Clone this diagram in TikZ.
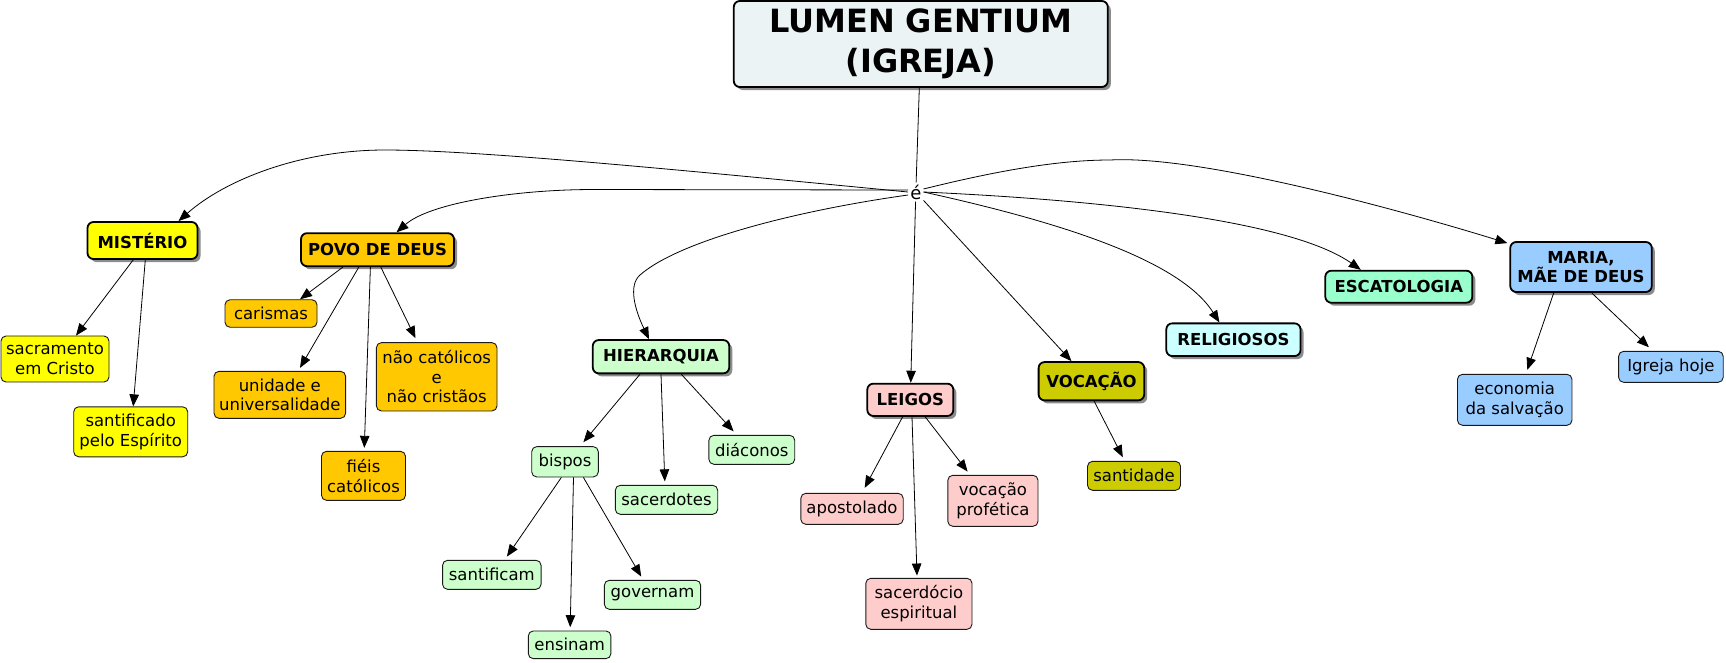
\documentclass[tikz,border=0pt]{standalone}
\usepackage{fontspec}
\setmainfont{DejaVu Sans}
\usetikzlibrary{arrows.meta,calc,shadows}
\definecolor{titlefill}{HTML}{EBF3F5}
\definecolor{cyel}{HTML}{FFFF00}
\definecolor{corange}{HTML}{FFC800}
\definecolor{cgreen}{HTML}{CCFFCC}
\definecolor{cpink}{HTML}{FFCCCC}
\definecolor{colive}{HTML}{CCCC00}
\definecolor{ccyan}{HTML}{CCFFFF}
\definecolor{caqua}{HTML}{99FFCC}
\definecolor{cblue}{HTML}{99CCFF}
\tikzset{
  cmain/.style={draw=black, line width=1.8pt, rounded corners=6pt, align=center, inner sep=0pt,
    font=\fontsize{16.5}{19.3}\selectfont\bfseries,
    drop shadow={shadow xshift=3pt, shadow yshift=-3pt, fill=black!45, opacity=1}},
  csub/.style={draw=black!90, line width=0.9pt, rounded corners=5pt, align=center, inner sep=0pt,
    font=\fontsize{16.5}{19.7}\selectfont},
  carr/.style={-{Triangle[length=12pt,width=9.5pt]}, line width=0.8pt},
  cline/.style={line width=0.8pt}
}
\begin{document}
\begin{tikzpicture}[x=1pt,y=-1pt]
\useasboundingbox (0,0) rectangle (1726,662);
% title
\node[cmain, fill=titlefill, minimum width=374pt, minimum height=86pt, font=\fontsize{32}{40}\selectfont\bfseries] (title) at (920.8,44) {LUMEN GENTIUM\\(IGREJA)};
\node[inner sep=2pt, font=\fontsize{18}{20}\selectfont] (e) at (915.8,192) {é};
% main concepts
\node[cmain, fill=cyel, minimum width=110pt, minimum height=37pt] (mist) at (142.5,240.5) {MISTÉRIO};
\node[cmain, fill=corange, minimum width=153pt, minimum height=33pt] (povo) at (377.5,249.7) {POVO DE DEUS};
\node[cmain, fill=cgreen, minimum width=136.5pt, minimum height=33.3pt] (hier) at (661,356.7) {HIERARQUIA};
\node[cmain, fill=cpink, minimum width=86pt, minimum height=32.3pt] (leigos) at (910.3,399.8) {LEIGOS};
\node[cmain, fill=colive, minimum width=105.6pt, minimum height=38.3pt] (voc) at (1091.4,381.2) {VOCAÇÃO};
\node[cmain, fill=ccyan, minimum width=134.2pt, minimum height=32.7pt] (relig) at (1233.4,339.7) {RELIGIOSOS};
\node[cmain, fill=caqua, minimum width=147pt, minimum height=32pt] (escat) at (1398.8,286.7) {ESCATOLOGIA};
\node[cmain, fill=cblue, minimum width=141.5pt, minimum height=50pt] (maria) at (1581,267) {MARIA,\\MÃE DE DEUS};
% sub concepts
\node[csub, fill=cyel, minimum width=108pt, minimum height=46pt] (sacr) at (55,359) {sacramento\\em Cristo};
\node[csub, fill=cyel, minimum width=114pt, minimum height=50pt] (santif) at (130.7,431.8) {santificado\\pelo Espírito};
\node[csub, fill=corange, minimum width=92pt, minimum height=27.5pt] (caris) at (271,313.5) {carismas};
\node[csub, fill=corange, minimum width=131.6pt, minimum height=47pt] (unid) at (279.8,394.8) {unidade e\\universalidade};
\node[csub, fill=corange, minimum width=120.6pt, minimum height=68.3pt] (naocat) at (436.7,376.8) {não católicos\\e\\não cristãos};
\node[csub, fill=corange, minimum width=84pt, minimum height=49pt] (fieis) at (363.5,475.8) {fiéis\\católicos};
\node[csub, fill=cgreen, minimum width=66.6pt, minimum height=30.3pt] (bispos) at (565,461.8) {bispos};
\node[csub, fill=cgreen, minimum width=102.4pt, minimum height=29pt] (sacerd) at (666.5,499.8) {sacerdotes};
\node[csub, fill=cgreen, minimum width=85.8pt, minimum height=29pt] (diac) at (751.8,449.8) {diáconos};
\node[csub, fill=cgreen, minimum width=98.5pt, minimum height=29pt] (santcam) at (491.8,574.8) {santificam};
\node[csub, fill=cgreen, minimum width=96.3pt, minimum height=29pt] (gov) at (652.5,594.8) {governam};
\node[csub, fill=cgreen, minimum width=82.6pt, minimum height=27.7pt] (ens) at (569.6,644.8) {ensinam};
\node[csub, fill=cpink, minimum width=102.4pt, minimum height=31pt] (apost) at (852,508.8) {apostolado};
\node[csub, fill=cpink, minimum width=90.2pt, minimum height=51pt] (vocprof) at (992.9,500.8) {vocação\\profética};
\node[csub, fill=cpink, minimum width=106.2pt, minimum height=51pt] (sacesp) at (918.9,603.8) {sacerdócio\\espiritual};
\node[csub, fill=colive, minimum width=93pt, minimum height=29pt] (santid) at (1134,475.8) {santidade};
\node[csub, fill=cblue, minimum width=114.5pt, minimum height=51pt] (econ) at (1514.7,399.8) {economia\\da salvação};
\node[csub, fill=cblue, minimum width=104.6pt, minimum height=31pt] (igreja) at (1670.9,366.8) {Igreja hoje};
% connectors from title / é
\draw[cline] (title) -- (e);
\draw[carr] (e.west) .. controls (700,172) and (480,150) .. (385,150) .. controls (300,150) and (225,180) .. ([xshift=36pt]mist.north);
\draw[carr] ([yshift=2pt]e.west) -- (594,189.5) .. controls (515,189.5) and (430,203) .. ([xshift=19pt]povo.north);
\draw[carr] ([yshift=-3pt]e.west) .. controls (800,210) and (680,240) .. (640,275) .. controls (628,285.5) and (635,310) .. ([xshift=-12pt]hier.north);
\draw[carr] (e) -- (leigos);
\draw[carr] (e) -- ([xshift=-20pt]voc.north);
\draw[carr] (e.east) .. controls (1060,222) and (1180,260) .. ([xshift=-14pt]relig.north);
\draw[carr] (e.east) .. controls (1100,200) and (1290,220) .. ([xshift=-38pt]escat.north);
\draw[carr] ([yshift=3pt]e.east) .. controls (1000,170) and (1060,160) .. (1110,160) .. controls (1200,155) and (1400,210) .. ([xshift=-2pt,yshift=-2pt]maria.north west);
% children
\draw[carr] ([xshift=-9.3pt]mist.south) -- ([xshift=21pt]sacr.north);
\draw[carr] ([xshift=2.8pt]mist.south) -- ([xshift=2.5pt]santif.north);
\draw[carr] ([xshift=-34.6pt]povo.south) -- ([xshift=29pt]caris.north);
\draw[carr] ([xshift=-18.7pt]povo.south) -- ([xshift=20.2pt,yshift=3pt]unid.north);
\draw[carr] ([xshift=-7.1pt]povo.south) -- ([xshift=0.8pt,yshift=3pt]fieis.north);
\draw[carr] ([xshift=3.3pt]povo.south) -- ([xshift=-21.2pt,yshift=4pt]naocat.north);
\draw[carr] ([xshift=-21pt]hier.south) -- ([xshift=18.4pt,yshift=4pt]bispos.north);
\draw[carr] (hier.south) -- ([xshift=-1.7pt,yshift=3.5pt]sacerd.north);
\draw[carr] ([xshift=20.3pt]hier.south) -- ([xshift=-18.2pt,yshift=3.5pt]diac.north);
\draw[carr] ([xshift=-3.6pt]bispos.south) -- ([xshift=15.1pt,yshift=3.3pt]santcam.north);
\draw[carr] ([xshift=8.5pt]bispos.south) -- ([xshift=0.6pt,yshift=3.3pt]ens.north);
\draw[carr] ([xshift=18.4pt]bispos.south) -- ([xshift=-11.3pt,yshift=3.3pt]gov.north);
\draw[carr] ([xshift=-7.7pt]leigos.south) -- ([xshift=12.7pt,yshift=5pt]apost.north);
\draw[carr] ([xshift=1.7pt]leigos.south) -- ([xshift=-1.9pt,yshift=2.3pt]sacesp.north);
\draw[carr] ([xshift=14.9pt]leigos.south) -- ([xshift=-25.3pt,yshift=3.3pt]vocprof.north);
\draw[carr] ([xshift=2.8pt]voc.south) -- ([xshift=-11.2pt,yshift=3.6pt]santid.north);
\draw[carr] ([xshift=-27.3pt]maria.south) -- ([xshift=12.6pt,yshift=4pt]econ.north);
\draw[carr] ([xshift=10.7pt]maria.south) -- ([xshift=-22pt,yshift=3.6pt]igreja.north);
\end{tikzpicture}
\end{document}
